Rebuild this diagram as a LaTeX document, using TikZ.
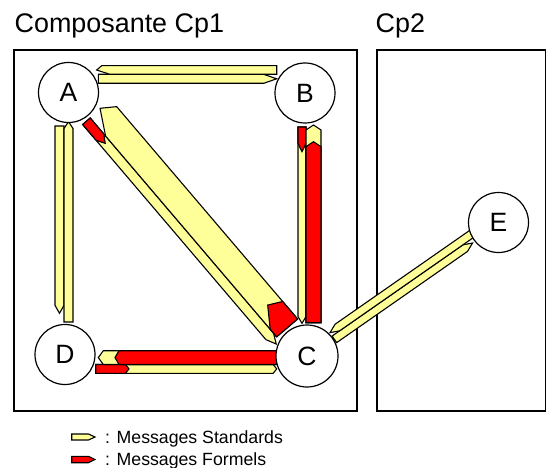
\documentclass[tikz,border=0pt]{standalone}
\usepackage{fontspec}
\setmainfont{Liberation Sans}
\usetikzlibrary{calc}
\definecolor{stdyellow}{HTML}{FFFF99}
\definecolor{formred}{HTML}{FF0000}
\pgfdeclarelayer{boxes}
\pgfdeclarelayer{flows}
\pgfsetlayers{boxes,flows,main}
% block arrow: fill, tail, head, n1, n2, tail dist, head dist, shoulder n1, shoulder n2
\newcommand\barrow[9]{%
  \pgfmathsetlengthmacro\bamid{((#4)+(#5))/2}%
  \pgfmathsetlengthmacro\baone{(#7)+(#8)}%
  \pgfmathsetlengthmacro\batwo{(#7)+(#9)}%
  \filldraw[arrowline,fill=#1]
    ($(#2)!#6!(#3)!#4!90:(#3)$)
    -- ($(#3)!\baone!(#2)!#4!-90:(#2)$)
    -- ($(#3)!#7!(#2)!\bamid!-90:(#2)$)
    -- ($(#3)!\batwo!(#2)!#5!-90:(#2)$)
    -- ($(#2)!#6!(#3)!#5!90:(#3)$)
    -- cycle;}
\begin{document}
\begin{tikzpicture}[x=1pt,y=-1pt,
  station/.style={circle, draw, line width=1.2pt, fill=white, minimum size=60pt, inner sep=0pt, font=\fontsize{26.5}{30}\selectfont},
  arrowline/.style={draw=black, line width=1.1pt, line join=miter},
  compbox/.style={draw, line width=1.1pt},
  titletext/.style={anchor=base west, inner sep=0pt, font=\fontsize{26.9}{30}\selectfont},
  legendtext/.style={anchor=base west, inner sep=0pt, font=\fontsize{17.7}{20}\selectfont}]
\useasboundingbox (0,0) rectangle (549,468);

\node[station] (A) at (68.5,92.5) {A};
\node[station] (B) at (305,93) {B};
\node[station, minimum size=62pt] (C) at (307,356) {C};
\node[station] (D) at (65,354.5) {D};
\node[station] (E) at (498.5,222.5) {E};
\coordinate (Cd) at ($(C)+(-14pt,0pt)$);

\node[titletext] (t1) at (14.5,33) {Composante Cp1};
\node[titletext] (t2) at (375.5,33) {Cp2};

\begin{pgfonlayer}{boxes}
\draw[compbox] (14,50) rectangle (357,411);
\draw[compbox] (377,50) rectangle (545.5,411);
\end{pgfonlayer}

\begin{pgfonlayer}{flows}
% A - B
\barrow{stdyellow}{A}{A-|B}{9.2pt}{18.2pt}{29.8pt}{28.3pt}{13pt}{13pt}
\barrow{stdyellow}{A-|B}{A}{-26.8pt}{-18.2pt}{28.3pt}{28.2pt}{5pt}{13pt}
% A - D
\barrow{stdyellow}{A}{A|-D}{-13.5pt}{-4.5pt}{33.5pt}{41.2pt}{8pt}{8pt}
\barrow{stdyellow}{A|-D}{A}{-4.5pt}{4.5pt}{32.5pt}{29.2pt}{6.7pt}{6.7pt}
% B - C
\barrow{stdyellow}{B}{B|-C}{-7pt}{1pt}{34pt}{32.7pt}{6.7pt}{6.7pt}
\barrow{formred}{B}{B|-C}{-7pt}{1pt}{34pt}{204.3pt}{8.3pt}{8.3pt}
\barrow{stdyellow}{B|-C}{B}{-16pt}{-1pt}{33.3pt}{32pt}{5pt}{5pt}
\barrow{formred}{B|-C}{B}{-16pt}{-1pt}{33.3pt}{48.7pt}{5pt}{5pt}
% D - C
\barrow{stdyellow}{D}{D-|C}{-18.8pt}{-10pt}{30.7pt}{30.3pt}{3.5pt}{3.5pt}
\barrow{formred}{D}{D-|C}{-18.8pt}{-10pt}{30.7pt}{178pt}{3.5pt}{3.5pt}
\barrow{stdyellow}{D-|C}{D}{-3.8pt}{10pt}{30.3pt}{33.3pt}{5pt}{5pt}
\barrow{formred}{D-|C}{D}{-3.8pt}{10pt}{30.3pt}{50pt}{4pt}{4pt}
% A - C
\barrow{stdyellow}{A}{Cd}{-10pt}{0pt}{33.5pt}{20pt}{10pt}{10pt}
\barrow{formred}{A}{Cd}{-10pt}{0pt}{33.5pt}{283.7pt}{8pt}{8pt}
\barrow{stdyellow}{Cd}{A}{-27.5pt}{0pt}{25.2pt}{32.5pt}{9.5pt}{24.7pt}
\barrow{formred}{Cd}{A}{-27.5pt}{0pt}{25.2pt}{291pt}{7pt}{20pt}
% C - E
\barrow{stdyellow}{C}{E}{-6pt}{2pt}{32pt}{33pt}{9pt}{9pt}
\barrow{stdyellow}{E}{C}{-10pt}{-2pt}{28pt}{32.2pt}{9pt}{9pt}
\end{pgfonlayer}

% legend
\filldraw[arrowline, fill=stdyellow] (71.7,434) -- (88.5,434) -- (95,437) -- (88.5,440) -- (71.7,440) -- cycle;
\filldraw[arrowline, fill=formred] (71.7,456.3) -- (88.5,456.3) -- (95,459.5) -- (88.5,462.7) -- (71.7,462.7) -- cycle;
\node[legendtext] (l1) at (105,443.3) {: Messages Standards};
\node[legendtext] (l2) at (105,465) {: Messages Formels};
\end{tikzpicture}
\end{document}
